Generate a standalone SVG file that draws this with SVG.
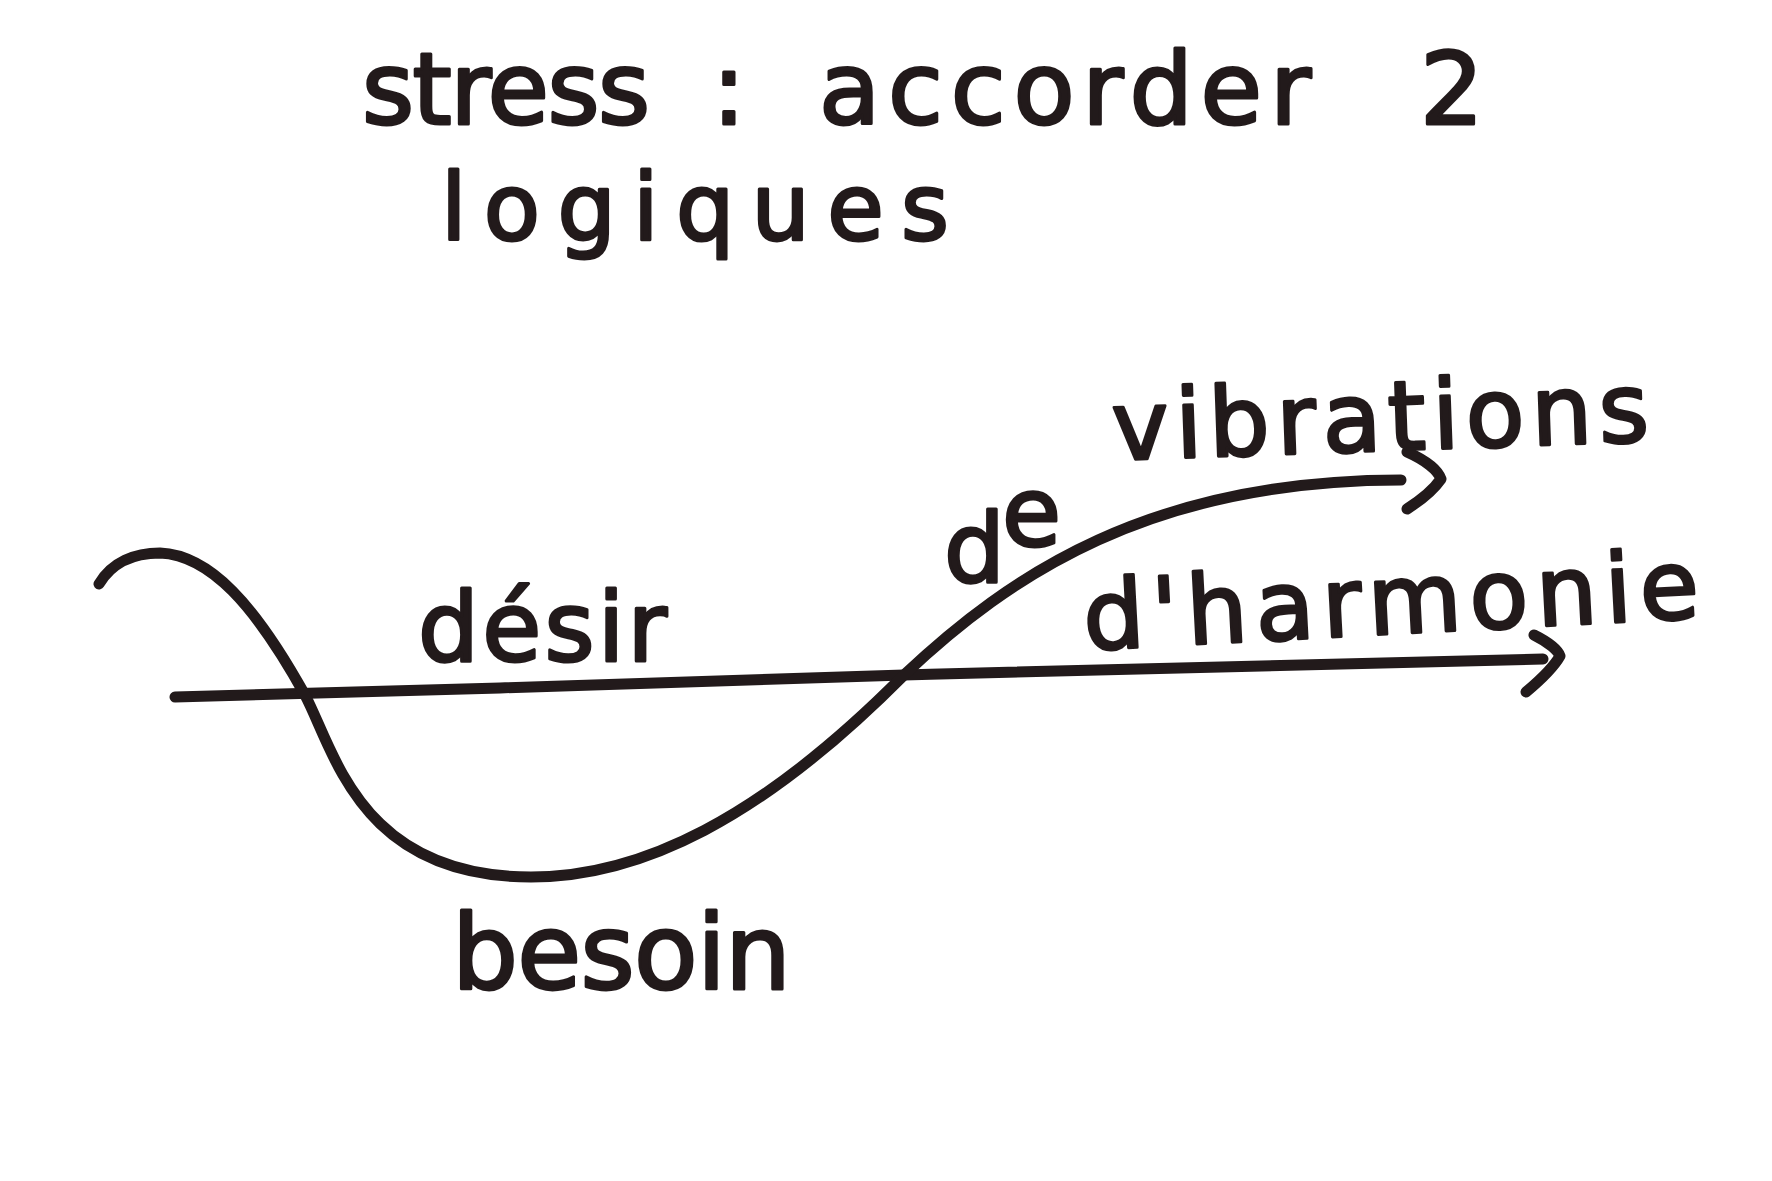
<svg xmlns="http://www.w3.org/2000/svg" width="1772" height="1181" viewBox="0 0 1772 1181">
<style>
.ink{fill:none;stroke:#221a1b;stroke-width:11;stroke-linecap:round;stroke-linejoin:round}
.t{font-family:"DejaVu Sans","Liberation Sans",sans-serif;fill:#221a1b;stroke:#221a1b;stroke-width:3;stroke-linejoin:round;font-weight:normal}
</style>
<rect width="1772" height="1181" fill="#ffffff"/>
<g id="title">
<text class="t" y="124" font-size="100"><tspan x="362" textLength="288" lengthAdjust="spacing">stress</tspan><tspan x="712">:</tspan><tspan x="819" textLength="492" lengthAdjust="spacing">accorder</tspan><tspan x="1420">2</tspan></text>
<text class="t" x="441" y="240" font-size="92" textLength="508" lengthAdjust="spacing">logiques</text>
</g>
<g id="connectors">
<path class="ink" d="M175,697 C400,692 700,681 904,675 C1150,668 1400,662 1543,659"/>
<path class="ink" d="M1534,635 C1548,642 1558,650 1560,656 C1552,670 1538,682 1526,692"/>
<path class="ink" d="M99,584 C112,562 135,553 160,553 C210,555 255,605 305,695 C335,752 360,877 531,877 C640,877 760,820 904,675 C1010,575 1150,480 1401,480"/>
<path class="ink" d="M1407,452 C1425,460 1438,470 1441,479 C1432,492 1418,502 1407,509"/>
</g>
<g id="n-vibrations"><text class="t" x="1113" y="460" font-size="96" textLength="537" lengthAdjust="spacing" transform="rotate(-2 1113 460)">vibrations</text></g>
<g id="n-de"><text class="t" font-size="96"><tspan x="944" y="582">d</tspan><tspan x="1002" y="546">e</tspan></text></g>
<g id="n-desir"><text class="t" x="418" y="661" font-size="96" textLength="249" lengthAdjust="spacing">désir</text></g>
<g id="n-harmonie"><text class="t" x="1085" y="650" font-size="96" textLength="616" lengthAdjust="spacing" transform="rotate(-3 1085 650)">d'harmonie</text></g>
<g id="n-besoin"><text class="t" x="452" y="989" font-size="104" textLength="339" lengthAdjust="spacing">besoin</text></g>
</svg>
